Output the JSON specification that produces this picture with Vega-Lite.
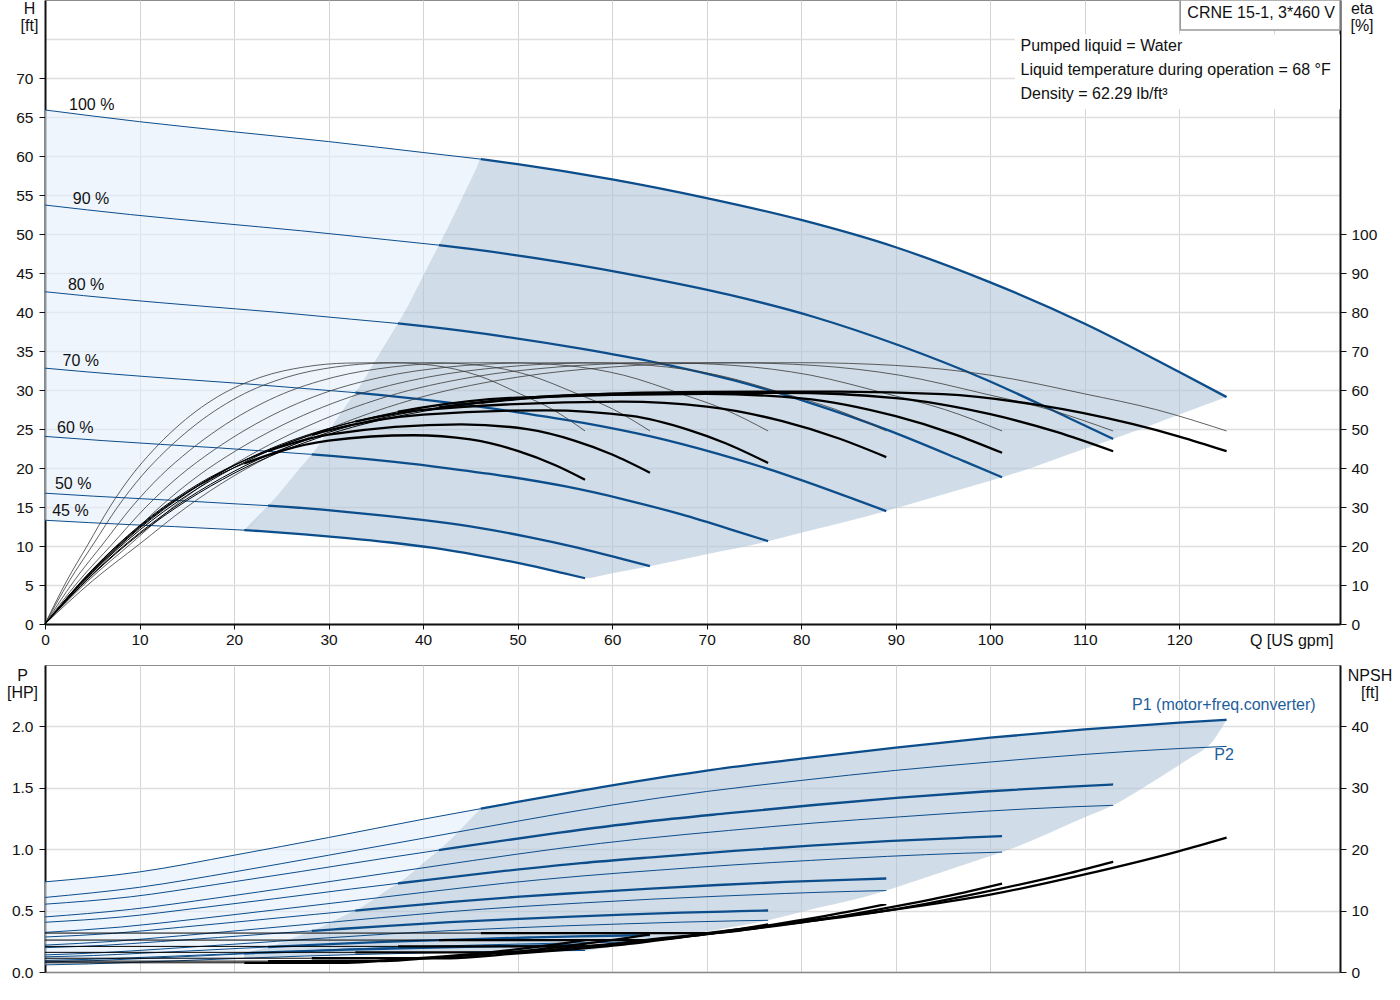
{
"$schema": "https://vega.github.io/schema/vega-lite/v6.json",
"padding": {"left": 5, "top": -2, "right": 0, "bottom": 0},
"bounds": "flush",
"spacing": 41,
"config": {
  "font": "Liberation Sans",
  "view": {"stroke": "#8c8c8c", "strokeWidth": 1},
  "axis": {"labelFont": "Liberation Sans", "labelFontSize": 15.5, "labelColor": "#111", "labelFlush": false, "labelOverlap": false, "titleFont": "Liberation Sans", "titleFontSize": 16, "titleFontWeight": "normal", "titleColor": "#111", "tickColor": "#111", "domainColor": "#111", "gridColor": "#d8d8d8", "gridWidth": 1},
  "text": {"font": "Liberation Sans", "fontSize": 16, "color": "#111"}
},
"datasets": {
"qh": [
{"c":"100","s":"a","Q":0,"H":65.9},{"c":"100","s":"a","Q":10,"H":64.4},{"c":"100","s":"a","Q":20,"H":63.1},{"c":"100","s":"a","Q":30,"H":61.85},{"c":"100","s":"a","Q":40,"H":60.45},{"c":"100","s":"a","Q":46.1,"H":59.6},
{"c":"100","s":"b","Q":46.1,"H":59.6},{"c":"100","s":"b","Q":50,"H":58.96},{"c":"100","s":"b","Q":60,"H":57},{"c":"100","s":"b","Q":70,"H":54.6},{"c":"100","s":"b","Q":80,"H":51.8},{"c":"100","s":"b","Q":90,"H":48.3},{"c":"100","s":"b","Q":100,"H":43.8},{"c":"100","s":"b","Q":110,"H":38.5},{"c":"100","s":"b","Q":120,"H":32.3},{"c":"100","s":"b","Q":125,"H":29.1},
{"c":"90","s":"a","Q":0,"H":53.71},{"c":"90","s":"a","Q":9.04,"H":52.49},{"c":"90","s":"a","Q":18.08,"H":51.43},{"c":"90","s":"a","Q":27.12,"H":50.41},{"c":"90","s":"a","Q":36.16,"H":49.27},{"c":"90","s":"a","Q":41.67,"H":48.57},
{"c":"90","s":"b","Q":41.67,"H":48.57},{"c":"90","s":"b","Q":45.2,"H":48.05},{"c":"90","s":"b","Q":54.24,"H":46.46},{"c":"90","s":"b","Q":63.28,"H":44.5},{"c":"90","s":"b","Q":72.32,"H":42.22},{"c":"90","s":"b","Q":81.36,"H":39.36},{"c":"90","s":"b","Q":90.4,"H":35.7},{"c":"90","s":"b","Q":99.44,"H":31.38},{"c":"90","s":"b","Q":108.48,"H":26.32},{"c":"90","s":"b","Q":113,"H":23.72},
{"c":"80","s":"a","Q":0,"H":42.6},{"c":"80","s":"a","Q":8.1,"H":41.63},{"c":"80","s":"a","Q":16.2,"H":40.79},{"c":"80","s":"a","Q":24.3,"H":39.99},{"c":"80","s":"a","Q":32.4,"H":39.08},{"c":"80","s":"a","Q":37.34,"H":38.53},
{"c":"80","s":"b","Q":37.34,"H":38.53},{"c":"80","s":"b","Q":40.5,"H":38.12},{"c":"80","s":"b","Q":48.6,"H":36.85},{"c":"80","s":"b","Q":56.7,"H":35.3},{"c":"80","s":"b","Q":64.8,"H":33.49},{"c":"80","s":"b","Q":72.9,"H":31.23},{"c":"80","s":"b","Q":81,"H":28.32},{"c":"80","s":"b","Q":89.1,"H":24.89},{"c":"80","s":"b","Q":97.2,"H":20.88},{"c":"80","s":"b","Q":101.25,"H":18.81},
{"c":"70","s":"a","Q":0,"H":32.8},{"c":"70","s":"a","Q":7.12,"H":32.05},{"c":"70","s":"a","Q":14.24,"H":31.4},{"c":"70","s":"a","Q":21.36,"H":30.78},{"c":"70","s":"a","Q":28.48,"H":30.09},{"c":"70","s":"a","Q":32.82,"H":29.66},
{"c":"70","s":"b","Q":32.82,"H":29.66},{"c":"70","s":"b","Q":35.6,"H":29.34},{"c":"70","s":"b","Q":42.72,"H":28.37},{"c":"70","s":"b","Q":49.84,"H":27.17},{"c":"70","s":"b","Q":56.96,"H":25.78},{"c":"70","s":"b","Q":64.08,"H":24.04},{"c":"70","s":"b","Q":71.2,"H":21.8},{"c":"70","s":"b","Q":78.32,"H":19.16},{"c":"70","s":"b","Q":85.44,"H":16.08},{"c":"70","s":"b","Q":89,"H":14.48},
{"c":"60","s":"a","Q":0,"H":24.05},{"c":"60","s":"a","Q":6.12,"H":23.51},{"c":"60","s":"a","Q":12.24,"H":23.03},{"c":"60","s":"a","Q":18.36,"H":22.58},{"c":"60","s":"a","Q":24.48,"H":22.06},{"c":"60","s":"a","Q":28.21,"H":21.75},
{"c":"60","s":"b","Q":28.21,"H":21.75},{"c":"60","s":"b","Q":30.6,"H":21.52},{"c":"60","s":"b","Q":36.72,"H":20.81},{"c":"60","s":"b","Q":42.84,"H":19.93},{"c":"60","s":"b","Q":48.96,"H":18.91},{"c":"60","s":"b","Q":55.08,"H":17.63},{"c":"60","s":"b","Q":61.2,"H":15.99},{"c":"60","s":"b","Q":67.32,"H":14.05},{"c":"60","s":"b","Q":73.44,"H":11.79},{"c":"60","s":"b","Q":76.5,"H":10.62},
{"c":"50","s":"a","Q":0,"H":16.77},{"c":"50","s":"a","Q":5.12,"H":16.39},{"c":"50","s":"a","Q":10.24,"H":16.06},{"c":"50","s":"a","Q":15.36,"H":15.74},{"c":"50","s":"a","Q":20.48,"H":15.38},{"c":"50","s":"a","Q":23.6,"H":15.17},
{"c":"50","s":"b","Q":23.6,"H":15.17},{"c":"50","s":"b","Q":25.6,"H":15.01},{"c":"50","s":"b","Q":30.72,"H":14.51},{"c":"50","s":"b","Q":35.84,"H":13.9},{"c":"50","s":"b","Q":40.96,"H":13.18},{"c":"50","s":"b","Q":46.08,"H":12.29},{"c":"50","s":"b","Q":51.2,"H":11.15},{"c":"50","s":"b","Q":56.32,"H":9.8},{"c":"50","s":"b","Q":61.44,"H":8.22},{"c":"50","s":"b","Q":64,"H":7.41},
{"c":"45","s":"a","Q":0,"H":13.3},{"c":"45","s":"a","Q":4.57,"H":13.0},{"c":"45","s":"a","Q":9.14,"H":12.73},{"c":"45","s":"a","Q":13.71,"H":12.48},{"c":"45","s":"a","Q":18.28,"H":12.2},{"c":"45","s":"a","Q":21.07,"H":12.03},
{"c":"45","s":"b","Q":21.07,"H":12.03},{"c":"45","s":"b","Q":22.85,"H":11.9},{"c":"45","s":"b","Q":27.42,"H":11.5},{"c":"45","s":"b","Q":31.99,"H":11.02},{"c":"45","s":"b","Q":36.56,"H":10.45},{"c":"45","s":"b","Q":41.13,"H":9.75},{"c":"45","s":"b","Q":45.7,"H":8.84},{"c":"45","s":"b","Q":50.27,"H":7.77},{"c":"45","s":"b","Q":54.84,"H":6.52},{"c":"45","s":"b","Q":57.13,"H":5.87}
],
"eh": [
{"c":"100","Q":0,"E":0},{"c":"100","Q":5,"E":11},{"c":"100","Q":10,"E":20.5},{"c":"100","Q":15,"E":30},{"c":"100","Q":20,"E":38},{"c":"100","Q":25,"E":44.5},{"c":"100","Q":30,"E":50},{"c":"100","Q":40,"E":58.3},{"c":"100","Q":50,"E":63.3},{"c":"100","Q":60,"E":65.9},{"c":"100","Q":70,"E":66.9},{"c":"100","Q":80,"E":67},{"c":"100","Q":90,"E":66.3},{"c":"100","Q":100,"E":63.8},{"c":"100","Q":110,"E":59},{"c":"100","Q":117.5,"E":55},{"c":"100","Q":125,"E":49.5},
{"c":"90","Q":0,"E":0},{"c":"90","Q":4.52,"E":11},{"c":"90","Q":9.04,"E":20.5},{"c":"90","Q":13.56,"E":30},{"c":"90","Q":18.08,"E":38},{"c":"90","Q":22.6,"E":44.5},{"c":"90","Q":27.12,"E":50},{"c":"90","Q":36.16,"E":58.3},{"c":"90","Q":45.2,"E":63.3},{"c":"90","Q":54.24,"E":65.9},{"c":"90","Q":63.28,"E":66.9},{"c":"90","Q":72.32,"E":67},{"c":"90","Q":81.36,"E":66.3},{"c":"90","Q":90.4,"E":63.8},{"c":"90","Q":99.44,"E":59},{"c":"90","Q":106.22,"E":55},{"c":"90","Q":113,"E":49.5},
{"c":"80","Q":0,"E":0},{"c":"80","Q":4.05,"E":11},{"c":"80","Q":8.1,"E":20.5},{"c":"80","Q":12.15,"E":30},{"c":"80","Q":16.2,"E":38},{"c":"80","Q":20.25,"E":44.5},{"c":"80","Q":24.3,"E":50},{"c":"80","Q":32.4,"E":58.3},{"c":"80","Q":40.5,"E":63.3},{"c":"80","Q":48.6,"E":65.9},{"c":"80","Q":56.7,"E":66.9},{"c":"80","Q":64.8,"E":67},{"c":"80","Q":72.9,"E":66.3},{"c":"80","Q":81,"E":63.8},{"c":"80","Q":89.1,"E":59},{"c":"80","Q":95.18,"E":55},{"c":"80","Q":101.25,"E":49.5},
{"c":"70","Q":0,"E":0},{"c":"70","Q":3.56,"E":11},{"c":"70","Q":7.12,"E":20.5},{"c":"70","Q":10.68,"E":30},{"c":"70","Q":14.24,"E":38},{"c":"70","Q":17.8,"E":44.5},{"c":"70","Q":21.36,"E":50},{"c":"70","Q":28.48,"E":58.3},{"c":"70","Q":35.6,"E":63.3},{"c":"70","Q":42.72,"E":65.9},{"c":"70","Q":49.84,"E":66.9},{"c":"70","Q":56.96,"E":67},{"c":"70","Q":64.08,"E":66.3},{"c":"70","Q":71.2,"E":63.8},{"c":"70","Q":78.32,"E":59},{"c":"70","Q":83.66,"E":55},{"c":"70","Q":89,"E":49.5},
{"c":"60","Q":0,"E":0},{"c":"60","Q":3.06,"E":11},{"c":"60","Q":6.12,"E":20.5},{"c":"60","Q":9.18,"E":30},{"c":"60","Q":12.24,"E":38},{"c":"60","Q":15.3,"E":44.5},{"c":"60","Q":18.36,"E":50},{"c":"60","Q":24.48,"E":58.3},{"c":"60","Q":30.6,"E":63.3},{"c":"60","Q":36.72,"E":65.9},{"c":"60","Q":42.84,"E":66.9},{"c":"60","Q":48.96,"E":67},{"c":"60","Q":55.08,"E":66.3},{"c":"60","Q":61.2,"E":63.8},{"c":"60","Q":67.32,"E":59},{"c":"60","Q":71.91,"E":55},{"c":"60","Q":76.5,"E":49.5},
{"c":"50","Q":0,"E":0},{"c":"50","Q":2.56,"E":11},{"c":"50","Q":5.12,"E":20.5},{"c":"50","Q":7.68,"E":30},{"c":"50","Q":10.24,"E":38},{"c":"50","Q":12.8,"E":44.5},{"c":"50","Q":15.36,"E":50},{"c":"50","Q":20.48,"E":58.3},{"c":"50","Q":25.6,"E":63.3},{"c":"50","Q":30.72,"E":65.9},{"c":"50","Q":35.84,"E":66.9},{"c":"50","Q":40.96,"E":67},{"c":"50","Q":46.08,"E":66.3},{"c":"50","Q":51.2,"E":63.8},{"c":"50","Q":56.32,"E":59},{"c":"50","Q":60.16,"E":55},{"c":"50","Q":64,"E":49.5},
{"c":"45","Q":0,"E":0},{"c":"45","Q":2.285,"E":11},{"c":"45","Q":4.57,"E":20.5},{"c":"45","Q":6.855,"E":30},{"c":"45","Q":9.14,"E":38},{"c":"45","Q":11.425,"E":44.5},{"c":"45","Q":13.71,"E":50},{"c":"45","Q":18.28,"E":58.3},{"c":"45","Q":22.85,"E":63.3},{"c":"45","Q":27.42,"E":65.9},{"c":"45","Q":31.99,"E":66.9},{"c":"45","Q":36.56,"E":67},{"c":"45","Q":41.13,"E":66.3},{"c":"45","Q":45.7,"E":63.8},{"c":"45","Q":50.27,"E":59},{"c":"45","Q":53.7,"E":55},{"c":"45","Q":57.13,"E":49.5}
],
"et": [
{"c":"100","s":"a","Q":0,"E":0},{"c":"100","s":"a","Q":5,"E":12.57},{"c":"100","s":"a","Q":10,"E":23.04},{"c":"100","s":"a","Q":15,"E":31.64},{"c":"100","s":"a","Q":20,"E":38.64},{"c":"100","s":"a","Q":30,"E":48.62},{"c":"100","s":"a","Q":40,"E":54.52},{"c":"100","s":"a","Q":46.1,"E":56.69},
{"c":"100","s":"b","Q":46.1,"E":56.69},{"c":"100","s":"b","Q":50,"E":57.65},{"c":"100","s":"b","Q":60,"E":59.05},{"c":"100","s":"b","Q":70,"E":59.51},{"c":"100","s":"b","Q":84,"E":59.6},{"c":"100","s":"b","Q":95,"E":58.92},{"c":"100","s":"b","Q":105,"E":56.17},{"c":"100","s":"b","Q":115,"E":51.29},{"c":"100","s":"b","Q":120,"E":48.06},{"c":"100","s":"b","Q":125,"E":44.3},
{"c":"90","s":"a","Q":0,"E":0},{"c":"90","s":"a","Q":5,"E":12.74},{"c":"90","s":"a","Q":10,"E":23.36},{"c":"90","s":"a","Q":15,"E":32.08},{"c":"90","s":"a","Q":20,"E":39.14},{"c":"90","s":"a","Q":30,"E":49.12},{"c":"90","s":"a","Q":40,"E":54.89},{"c":"90","s":"a","Q":41.67,"E":55.54},
{"c":"90","s":"b","Q":41.67,"E":55.54},{"c":"90","s":"b","Q":50,"E":57.8},{"c":"90","s":"b","Q":60,"E":58.97},{"c":"90","s":"b","Q":78,"E":59.3},{"c":"90","s":"b","Q":90,"E":57.92},{"c":"90","s":"b","Q":100,"E":53.79},{"c":"90","s":"b","Q":107,"E":49.26},{"c":"90","s":"b","Q":113,"E":44.3},
{"c":"80","s":"a","Q":0,"E":0},{"c":"80","s":"a","Q":5,"E":13.14},{"c":"80","s":"a","Q":10,"E":24.04},{"c":"80","s":"a","Q":15,"E":32.95},{"c":"80","s":"a","Q":20,"E":40.11},{"c":"80","s":"a","Q":30,"E":50.06},{"c":"80","s":"a","Q":37.34,"E":54.43},
{"c":"80","s":"b","Q":37.34,"E":54.43},{"c":"80","s":"b","Q":40,"E":55.55},{"c":"80","s":"b","Q":50,"E":58.07},{"c":"80","s":"b","Q":70,"E":59.0},{"c":"80","s":"b","Q":80,"E":57.87},{"c":"80","s":"b","Q":90,"E":53.28},{"c":"80","s":"b","Q":96,"E":48.83},{"c":"80","s":"b","Q":101.25,"E":43.9},
{"c":"70","s":"a","Q":0,"E":0},{"c":"70","s":"a","Q":5,"E":13.45},{"c":"70","s":"a","Q":10,"E":24.53},{"c":"70","s":"a","Q":15,"E":33.51},{"c":"70","s":"a","Q":20,"E":40.61},{"c":"70","s":"a","Q":30,"E":50.13},{"c":"70","s":"a","Q":32.82,"E":51.89},
{"c":"70","s":"b","Q":32.82,"E":51.89},{"c":"70","s":"b","Q":40,"E":54.93},{"c":"70","s":"b","Q":61,"E":57},{"c":"70","s":"b","Q":70,"E":55.75},{"c":"70","s":"b","Q":78,"E":52.01},{"c":"70","s":"b","Q":84,"E":47.57},{"c":"70","s":"b","Q":89,"E":42.8},
{"c":"60","s":"a","Q":0,"E":0},{"c":"60","s":"a","Q":5,"E":13.63},{"c":"60","s":"a","Q":10,"E":24.79},{"c":"60","s":"a","Q":15,"E":33.72},{"c":"60","s":"a","Q":20,"E":40.68},{"c":"60","s":"a","Q":28.21,"E":48.47},
{"c":"60","s":"b","Q":28.21,"E":48.47},{"c":"60","s":"b","Q":30,"E":49.65},{"c":"60","s":"b","Q":40,"E":53.69},{"c":"60","s":"b","Q":53,"E":54.8},{"c":"60","s":"b","Q":62,"E":53.37},{"c":"60","s":"b","Q":68,"E":49.86},{"c":"60","s":"b","Q":72,"E":46.36},{"c":"60","s":"b","Q":76.5,"E":41.3},
{"c":"50","s":"a","Q":0,"E":0},{"c":"50","s":"a","Q":5,"E":13.95},{"c":"50","s":"a","Q":10,"E":25.23},{"c":"50","s":"a","Q":15,"E":34.07},{"c":"50","s":"a","Q":20,"E":40.73},{"c":"50","s":"a","Q":23.6,"E":44.31},
{"c":"50","s":"b","Q":23.6,"E":44.31},{"c":"50","s":"b","Q":25,"E":45.47},{"c":"50","s":"b","Q":30,"E":48.56},{"c":"50","s":"b","Q":44,"E":51.2},{"c":"50","s":"b","Q":51,"E":49.96},{"c":"50","s":"b","Q":56,"E":47.04},{"c":"50","s":"b","Q":60,"E":43.47},{"c":"50","s":"b","Q":64,"E":38.8},
{"c":"45","s":"a","Q":0,"E":0},{"c":"45","s":"a","Q":5,"E":13.86},{"c":"45","s":"a","Q":10,"E":25.02},{"c":"45","s":"a","Q":15,"E":33.68},{"c":"45","s":"a","Q":20,"E":40.06},{"c":"45","s":"a","Q":21.07,"E":41.16},
{"c":"45","s":"b","Q":21.07,"E":41.16},{"c":"45","s":"b","Q":25,"E":44.41},{"c":"45","s":"b","Q":30,"E":47},{"c":"45","s":"b","Q":39,"E":48.4},{"c":"45","s":"b","Q":45,"E":47.32},{"c":"45","s":"b","Q":50,"E":44.39},{"c":"45","s":"b","Q":54,"E":40.71},{"c":"45","s":"b","Q":57.13,"E":37}
],
"tl": [
{"Q":0,"H":65.9,"H2":13.3},{"Q":4.57,"H":65.21,"H2":13.0},{"Q":9.14,"H":64.53,"H2":12.73},{"Q":13.71,"H":63.92,"H2":12.48},{"Q":18.28,"H":63.32,"H2":12.2},{"Q":21.07,"H":62.97,"H2":12.03},{"Q":23.6,"H":62.65,"H2":15.17},{"Q":28.21,"H":62.07,"H2":21.75},{"Q":32.82,"H":61.46,"H2":29.66},{"Q":37.34,"H":60.82,"H2":38.53},{"Q":41.67,"H":60.22,"H2":48.57},{"Q":46.1,"H":59.6,"H2":59.6}
],
"td": [
{"Q":21.07,"H":12.03,"H2":12.03},{"Q":22.85,"H":14.24,"H2":11.9},{"Q":23.6,"H":15.17,"H2":11.83},{"Q":27.42,"H":20.62,"H2":11.5},{"Q":28.21,"H":21.75,"H2":11.42},{"Q":31.99,"H":28.24,"H2":11.02},{"Q":32.82,"H":29.66,"H2":10.92},{"Q":36.56,"H":37.0,"H2":10.45},{"Q":37.34,"H":38.53,"H2":10.33},{"Q":41.13,"H":47.32,"H2":9.75},{"Q":41.67,"H":48.57,"H2":9.64},{"Q":45.7,"H":58.6,"H2":8.84},{"Q":46.1,"H":59.6,"H2":8.75},{"Q":50,"H":58.96,"H2":7.83},{"Q":50.27,"H":58.91,"H2":7.77},{"Q":54.84,"H":58.01,"H2":6.52},{"Q":57.13,"H":57.56,"H2":5.87},{"Q":60,"H":57.0,"H2":6.51},{"Q":64,"H":56.04,"H2":7.41},{"Q":70,"H":54.6,"H2":8.95},{"Q":76.5,"H":52.78,"H2":10.62},{"Q":80,"H":51.8,"H2":11.7},{"Q":89,"H":48.65,"H2":14.48},{"Q":90,"H":48.3,"H2":14.83},{"Q":100,"H":43.8,"H2":18.37},{"Q":101.25,"H":43.14,"H2":18.81},{"Q":110,"H":38.5,"H2":22.47},{"Q":113,"H":36.64,"H2":23.72},{"Q":120,"H":32.3,"H2":26.86},{"Q":125,"H":29.1,"H2":29.1}
],
"infobox": [{"Q":102.6,"Q2":137,"H":75.6,"H2":66.0}],
"crnebox": [{"Q":120.1,"Q2":137,"H":80,"H2":76.15}],
"spd": [
{"Q":2.54,"H":65.87,"t":"100 %"},{"Q":2.94,"H":53.84,"t":"90 %"},{"Q":2.42,"H":42.87,"t":"80 %"},{"Q":1.85,"H":33.06,"t":"70 %"},{"Q":1.28,"H":24.48,"t":"60 %"},{"Q":1.05,"H":17.28,"t":"50 %"},{"Q":0.76,"H":13.86,"t":"45 %"}
],
"info": [
{"Q":103.2,"H":73.48,"t":"Pumped liquid = Water"},{"Q":103.2,"H":70.4,"t":"Liquid temperature during operation = 68 °F"},{"Q":103.2,"H":67.35,"t":"Density = 62.29 lb/ft³"}
],
"crne": [{"Q":120.85,"H":77.64,"t":"CRNE 15-1, 3*460 V"}],
"p1": [
{"c":"100","s":"a","Q":0,"P":0.734},{"c":"100","s":"a","Q":10,"P":0.815},{"c":"100","s":"a","Q":20,"P":0.951},{"c":"100","s":"a","Q":30,"P":1.095},{"c":"100","s":"a","Q":40,"P":1.244},{"c":"100","s":"a","Q":46.1,"P":1.33},
{"c":"100","s":"b","Q":46.1,"P":1.33},{"c":"100","s":"b","Q":50,"P":1.385},{"c":"100","s":"b","Q":60,"P":1.52},{"c":"100","s":"b","Q":70,"P":1.64},{"c":"100","s":"b","Q":80,"P":1.737},{"c":"100","s":"b","Q":90,"P":1.827},{"c":"100","s":"b","Q":100,"P":1.908},{"c":"100","s":"b","Q":110,"P":1.976},{"c":"100","s":"b","Q":120,"P":2.03},{"c":"100","s":"b","Q":125,"P":2.054},
{"c":"90","s":"a","Q":0,"P":0.5523},{"c":"90","s":"a","Q":9.04,"P":0.6121},{"c":"90","s":"a","Q":18.08,"P":0.7126},{"c":"90","s":"a","Q":27.12,"P":0.819},{"c":"90","s":"a","Q":36.16,"P":0.9291},{"c":"90","s":"a","Q":41.67,"P":0.9926},
{"c":"90","s":"b","Q":41.67,"P":0.9926},{"c":"90","s":"b","Q":45.2,"P":1.0332},{"c":"90","s":"b","Q":54.24,"P":1.133},{"c":"90","s":"b","Q":63.28,"P":1.2216},{"c":"90","s":"b","Q":72.32,"P":1.2933},{"c":"90","s":"b","Q":81.36,"P":1.3598},{"c":"90","s":"b","Q":90.4,"P":1.4196},{"c":"90","s":"b","Q":99.44,"P":1.4699},{"c":"90","s":"b","Q":108.48,"P":1.5098},{"c":"90","s":"b","Q":113,"P":1.5275},
{"c":"80","s":"a","Q":0,"P":0.405},{"c":"80","s":"a","Q":8.1,"P":0.4481},{"c":"80","s":"a","Q":16.2,"P":0.5204},{"c":"80","s":"a","Q":24.3,"P":0.5969},{"c":"80","s":"a","Q":32.4,"P":0.6761},{"c":"80","s":"a","Q":37.34,"P":0.7218},
{"c":"80","s":"b","Q":37.34,"P":0.7218},{"c":"80","s":"b","Q":40.5,"P":0.751},{"c":"80","s":"b","Q":48.6,"P":0.8227},{"c":"80","s":"b","Q":56.7,"P":0.8865},{"c":"80","s":"b","Q":64.8,"P":0.938},{"c":"80","s":"b","Q":72.9,"P":0.9859},{"c":"80","s":"b","Q":81,"P":1.0289},{"c":"80","s":"b","Q":89.1,"P":1.065},{"c":"80","s":"b","Q":97.2,"P":1.0937},{"c":"80","s":"b","Q":101.25,"P":1.1065},
{"c":"70","s":"a","Q":0,"P":0.2849},{"c":"70","s":"a","Q":7.12,"P":0.3141},{"c":"70","s":"a","Q":14.24,"P":0.3632},{"c":"70","s":"a","Q":21.36,"P":0.4152},{"c":"70","s":"a","Q":28.48,"P":0.469},{"c":"70","s":"a","Q":32.82,"P":0.5},
{"c":"70","s":"b","Q":32.82,"P":0.5},{"c":"70","s":"b","Q":35.6,"P":0.5198},{"c":"70","s":"b","Q":42.72,"P":0.5686},{"c":"70","s":"b","Q":49.84,"P":0.6119},{"c":"70","s":"b","Q":56.96,"P":0.6469},{"c":"70","s":"b","Q":64.08,"P":0.6794},{"c":"70","s":"b","Q":71.2,"P":0.7086},{"c":"70","s":"b","Q":78.32,"P":0.7331},{"c":"70","s":"b","Q":85.44,"P":0.7526},{"c":"70","s":"b","Q":89,"P":0.7613},
{"c":"60","s":"a","Q":0,"P":0.1982},{"c":"60","s":"a","Q":6.12,"P":0.2168},{"c":"60","s":"a","Q":12.24,"P":0.248},{"c":"60","s":"a","Q":18.36,"P":0.281},{"c":"60","s":"a","Q":24.48,"P":0.3151},{"c":"60","s":"a","Q":28.21,"P":0.3348},
{"c":"60","s":"b","Q":28.21,"P":0.3348},{"c":"60","s":"b","Q":30.6,"P":0.3474},{"c":"60","s":"b","Q":36.72,"P":0.3784},{"c":"60","s":"b","Q":42.84,"P":0.4059},{"c":"60","s":"b","Q":48.96,"P":0.4281},{"c":"60","s":"b","Q":55.08,"P":0.4487},{"c":"60","s":"b","Q":61.2,"P":0.4673},{"c":"60","s":"b","Q":67.32,"P":0.4829},{"c":"60","s":"b","Q":73.44,"P":0.4953},{"c":"60","s":"b","Q":76.5,"P":0.5008},
{"c":"50","s":"a","Q":0,"P":0.1235},{"c":"50","s":"a","Q":5.12,"P":0.1344},{"c":"50","s":"a","Q":10.24,"P":0.1526},{"c":"50","s":"a","Q":15.36,"P":0.1719},{"c":"50","s":"a","Q":20.48,"P":0.1919},{"c":"50","s":"a","Q":23.6,"P":0.2035},
{"c":"50","s":"b","Q":23.6,"P":0.2035},{"c":"50","s":"b","Q":25.6,"P":0.2109},{"c":"50","s":"b","Q":30.72,"P":0.229},{"c":"50","s":"b","Q":35.84,"P":0.2451},{"c":"50","s":"b","Q":40.96,"P":0.2581},{"c":"50","s":"b","Q":46.08,"P":0.2702},{"c":"50","s":"b","Q":51.2,"P":0.2811},{"c":"50","s":"b","Q":56.32,"P":0.2902},{"c":"50","s":"b","Q":61.44,"P":0.2974},{"c":"50","s":"b","Q":64,"P":0.3006},
{"c":"45","s":"a","Q":0,"P":0.095},{"c":"45","s":"a","Q":4.57,"P":0.1028},{"c":"45","s":"a","Q":9.14,"P":0.1157},{"c":"45","s":"a","Q":13.71,"P":0.1295},{"c":"45","s":"a","Q":18.28,"P":0.1437},{"c":"45","s":"a","Q":21.07,"P":0.1519},
{"c":"45","s":"b","Q":21.07,"P":0.1519},{"c":"45","s":"b","Q":22.85,"P":0.1571},{"c":"45","s":"b","Q":27.42,"P":0.17},{"c":"45","s":"b","Q":31.99,"P":0.1815},{"c":"45","s":"b","Q":36.56,"P":0.1907},{"c":"45","s":"b","Q":41.13,"P":0.1993},{"c":"45","s":"b","Q":45.7,"P":0.207},{"c":"45","s":"b","Q":50.27,"P":0.2135},{"c":"45","s":"b","Q":54.84,"P":0.2187},{"c":"45","s":"b","Q":57.13,"P":0.221}
],
"p2": [
{"c":"100","Q":0,"P":0.607},{"c":"100","Q":10,"P":0.69},{"c":"100","Q":20,"P":0.815},{"c":"100","Q":30,"P":0.951},{"c":"100","Q":40,"P":1.089},{"c":"100","Q":50,"P":1.228},{"c":"100","Q":60,"P":1.36},{"c":"100","Q":70,"P":1.47},{"c":"100","Q":80,"P":1.56},{"c":"100","Q":90,"P":1.642},{"c":"100","Q":100,"P":1.71},{"c":"100","Q":110,"P":1.772},{"c":"100","Q":120,"P":1.82},{"c":"100","Q":125,"P":1.837},
{"c":"90","Q":0,"P":0.4484},{"c":"90","Q":9.04,"P":0.5098},{"c":"90","Q":18.08,"P":0.6021},{"c":"90","Q":27.12,"P":0.7026},{"c":"90","Q":36.16,"P":0.8046},{"c":"90","Q":45.2,"P":0.9072},{"c":"90","Q":54.24,"P":1.0048},{"c":"90","Q":63.28,"P":1.086},{"c":"90","Q":72.32,"P":1.1525},{"c":"90","Q":81.36,"P":1.2131},{"c":"90","Q":90.4,"P":1.2633},{"c":"90","Q":99.44,"P":1.3092},{"c":"90","Q":108.48,"P":1.3446},{"c":"90","Q":113,"P":1.3572},
{"c":"80","Q":0,"P":0.3226},{"c":"80","Q":8.1,"P":0.3667},{"c":"80","Q":16.2,"P":0.4331},{"c":"80","Q":24.3,"P":0.5054},{"c":"80","Q":32.4,"P":0.5787},{"c":"80","Q":40.5,"P":0.6526},{"c":"80","Q":48.6,"P":0.7227},{"c":"80","Q":56.7,"P":0.7812},{"c":"80","Q":64.8,"P":0.829},{"c":"80","Q":72.9,"P":0.8726},{"c":"80","Q":81,"P":0.9087},{"c":"80","Q":89.1,"P":0.9416},{"c":"80","Q":97.2,"P":0.9671},{"c":"80","Q":101.25,"P":0.9762},
{"c":"70","Q":0,"P":0.2191},{"c":"70","Q":7.12,"P":0.249},{"c":"70","Q":14.24,"P":0.2941},{"c":"70","Q":21.36,"P":0.3432},{"c":"70","Q":28.48,"P":0.393},{"c":"70","Q":35.6,"P":0.4432},{"c":"70","Q":42.72,"P":0.4908},{"c":"70","Q":49.84,"P":0.5305},{"c":"70","Q":56.96,"P":0.563},{"c":"70","Q":64.08,"P":0.5926},{"c":"70","Q":71.2,"P":0.6171},{"c":"70","Q":78.32,"P":0.6395},{"c":"70","Q":85.44,"P":0.6568},{"c":"70","Q":89,"P":0.663},
{"c":"60","Q":0,"P":0.1391},{"c":"60","Q":6.12,"P":0.1581},{"c":"60","Q":12.24,"P":0.1868},{"c":"60","Q":18.36,"P":0.218},{"c":"60","Q":24.48,"P":0.2496},{"c":"60","Q":30.6,"P":0.2815},{"c":"60","Q":36.72,"P":0.3117},{"c":"60","Q":42.84,"P":0.3369},{"c":"60","Q":48.96,"P":0.3576},{"c":"60","Q":55.08,"P":0.3763},{"c":"60","Q":61.2,"P":0.3919},{"c":"60","Q":67.32,"P":0.4061},{"c":"60","Q":73.44,"P":0.4171},{"c":"60","Q":76.5,"P":0.421},
{"c":"50","Q":0,"P":0.0815},{"c":"50","Q":5.12,"P":0.0926},{"c":"50","Q":10.24,"P":0.1094},{"c":"50","Q":15.36,"P":0.1276},{"c":"50","Q":20.48,"P":0.1461},{"c":"50","Q":25.6,"P":0.1648},{"c":"50","Q":30.72,"P":0.1825},{"c":"50","Q":35.84,"P":0.1973},{"c":"50","Q":40.96,"P":0.2094},{"c":"50","Q":46.08,"P":0.2204},{"c":"50","Q":51.2,"P":0.2295},{"c":"50","Q":56.32,"P":0.2378},{"c":"50","Q":61.44,"P":0.2442},{"c":"50","Q":64,"P":0.2465},
{"c":"45","Q":0,"P":0.0579},{"c":"45","Q":4.57,"P":0.0658},{"c":"45","Q":9.14,"P":0.0778},{"c":"45","Q":13.71,"P":0.0907},{"c":"45","Q":18.28,"P":0.1039},{"c":"45","Q":22.85,"P":0.1172},{"c":"45","Q":27.42,"P":0.1297},{"c":"45","Q":31.99,"P":0.1402},{"c":"45","Q":36.56,"P":0.1488},{"c":"45","Q":41.13,"P":0.1566},{"c":"45","Q":45.7,"P":0.1631},{"c":"45","Q":50.27,"P":0.169},{"c":"45","Q":54.84,"P":0.1736},{"c":"45","Q":57.13,"P":0.1752}
],
"np": [
{"c":"100","s":"a","Q":0,"N":6.34},{"c":"100","s":"a","Q":46.1,"N":6.34},
{"c":"100","s":"b","Q":46.1,"N":6.34},{"c":"100","s":"b","Q":70,"N":6.34},{"c":"100","s":"b","Q":80,"N":8.25},{"c":"100","s":"b","Q":90,"N":10.2},{"c":"100","s":"b","Q":100,"N":12.6},{"c":"100","s":"b","Q":110,"N":15.9},{"c":"100","s":"b","Q":120,"N":19.7},{"c":"100","s":"b","Q":125,"N":21.9},
{"c":"90","s":"a","Q":0,"N":5.2},{"c":"90","s":"a","Q":41.67,"N":5.2},
{"c":"90","s":"b","Q":41.67,"N":5.2},{"c":"90","s":"b","Q":63.28,"N":5.2},{"c":"90","s":"b","Q":72.32,"N":6.77},{"c":"90","s":"b","Q":81.36,"N":8.36},{"c":"90","s":"b","Q":90.4,"N":10.33},{"c":"90","s":"b","Q":99.44,"N":13.04},{"c":"90","s":"b","Q":108.48,"N":16.15},{"c":"90","s":"b","Q":113,"N":17.96},
{"c":"80","s":"a","Q":0,"N":4.17},{"c":"80","s":"a","Q":37.34,"N":4.17},
{"c":"80","s":"b","Q":37.34,"N":4.17},{"c":"80","s":"b","Q":56.7,"N":4.17},{"c":"80","s":"b","Q":64.8,"N":5.42},{"c":"80","s":"b","Q":72.9,"N":6.7},{"c":"80","s":"b","Q":81,"N":8.28},{"c":"80","s":"b","Q":89.1,"N":10.45},{"c":"80","s":"b","Q":97.2,"N":12.94},{"c":"80","s":"b","Q":101.25,"N":14.39},
{"c":"70","s":"a","Q":0,"N":3.2},{"c":"70","s":"a","Q":32.82,"N":3.2},
{"c":"70","s":"b","Q":32.82,"N":3.2},{"c":"70","s":"b","Q":49.84,"N":3.2},{"c":"70","s":"b","Q":56.96,"N":4.17},{"c":"70","s":"b","Q":64.08,"N":5.15},{"c":"70","s":"b","Q":71.2,"N":6.36},{"c":"70","s":"b","Q":78.32,"N":8.03},{"c":"70","s":"b","Q":85.44,"N":9.95},{"c":"70","s":"b","Q":89,"N":11.06},
{"c":"60","s":"a","Q":0,"N":2.24},{"c":"60","s":"a","Q":28.21,"N":2.24},
{"c":"60","s":"b","Q":28.21,"N":2.24},{"c":"60","s":"b","Q":42.84,"N":2.24},{"c":"60","s":"b","Q":48.96,"N":2.92},{"c":"60","s":"b","Q":55.08,"N":3.61},{"c":"60","s":"b","Q":61.2,"N":4.46},{"c":"60","s":"b","Q":67.32,"N":5.63},{"c":"60","s":"b","Q":73.44,"N":6.97},{"c":"60","s":"b","Q":76.5,"N":7.75},
{"c":"50","s":"a","Q":0,"N":1.77},{"c":"50","s":"a","Q":23.6,"N":1.77},
{"c":"50","s":"b","Q":23.6,"N":1.77},{"c":"50","s":"b","Q":35.84,"N":1.77},{"c":"50","s":"b","Q":40.96,"N":2.3},{"c":"50","s":"b","Q":46.08,"N":2.85},{"c":"50","s":"b","Q":51.2,"N":3.52},{"c":"50","s":"b","Q":56.32,"N":4.44},{"c":"50","s":"b","Q":61.44,"N":5.5},{"c":"50","s":"b","Q":64,"N":6.11},
{"c":"45","s":"a","Q":0,"N":1.5},{"c":"45","s":"a","Q":21.07,"N":1.5},
{"c":"45","s":"b","Q":21.07,"N":1.5},{"c":"45","s":"b","Q":31.99,"N":1.5},{"c":"45","s":"b","Q":36.56,"N":1.96},{"c":"45","s":"b","Q":41.13,"N":2.42},{"c":"45","s":"b","Q":45.7,"N":2.99},{"c":"45","s":"b","Q":50.27,"N":3.77},{"c":"45","s":"b","Q":54.84,"N":4.67},{"c":"45","s":"b","Q":57.13,"N":5.19}
],
"bl": [
{"Q":0,"P":0.734,"Pb":0.0579},{"Q":4.57,"P":0.771,"Pb":0.0658},{"Q":9.14,"P":0.808,"Pb":0.0778},{"Q":13.71,"P":0.8655,"Pb":0.0907},{"Q":18.28,"P":0.9276,"Pb":0.1039},{"Q":21.07,"P":0.9664,"Pb":0.13},{"Q":23.6,"P":1.0028,"Pb":0.2035},{"Q":28.21,"P":1.0692,"Pb":0.3348},{"Q":32.82,"P":1.137,"Pb":0.5},{"Q":37.34,"P":1.2044,"Pb":0.7218},{"Q":41.67,"P":1.2675,"Pb":0.9926},{"Q":46.1,"P":1.33,"Pb":1.33}
],
"bd": [
{"Q":21.07,"P":0.1519,"Pb":0.112},{"Q":22.85,"P":0.1882,"Pb":0.1172},{"Q":23.6,"P":0.2035,"Pb":0.1193},{"Q":27.42,"P":0.3123,"Pb":0.1297},{"Q":28.21,"P":0.3348,"Pb":0.1315},{"Q":31.99,"P":0.4703,"Pb":0.1402},{"Q":32.82,"P":0.5,"Pb":0.1418},{"Q":36.56,"P":0.6835,"Pb":0.1488},{"Q":37.34,"P":0.7218,"Pb":0.1501},{"Q":41.13,"P":0.9588,"Pb":0.1566},{"Q":41.67,"P":0.9926,"Pb":0.1574},{"Q":45.7,"P":1.2995,"Pb":0.1631},{"Q":46.1,"P":1.33,"Pb":0.1636},{"Q":50,"P":1.385,"Pb":0.1687},{"Q":50.27,"P":1.3886,"Pb":0.169},{"Q":54.84,"P":1.4503,"Pb":0.1736},{"Q":57.13,"P":1.481,"Pb":0.1752},{"Q":60,"P":1.52,"Pb":0.205},{"Q":64,"P":1.568,"Pb":0.2465},{"Q":70,"P":1.64,"Pb":0.3303},{"Q":76.5,"P":1.703,"Pb":0.421},{"Q":80,"P":1.737,"Pb":0.4888},{"Q":89,"P":1.818,"Pb":0.663},{"Q":90,"P":1.827,"Pb":0.6886},{"Q":100,"P":1.908,"Pb":0.9442},{"Q":101.25,"P":1.9165,"Pb":0.9762},{"Q":110,"P":1.976,"Pb":1.2599},{"Q":113,"P":1.9922,"Pb":1.3572},{"Q":116.6,"P":2.0116,"Pb":1.52},{"Q":120,"P":2.03,"Pb":1.6864},{"Q":121.3,"P":2.0362,"Pb":1.75},{"Q":123.6,"P":2.0473,"Pb":1.886},{"Q":125,"P":2.054,"Pb":2.054}
],
"plab": [{"Q":115.0,"P":2.13,"t":"P1 (motor+freq.converter)"},{"Q":123.7,"P":1.724,"t":"P2"}]
},
"vconcat": [
{
  "width": 1295, "height": 624,
  "encoding": {"x": {"field": "Q", "type": "quantitative", "scale": {"domain": [0, 137], "nice": false, "zero": false},
    "axis": {"values": [0,10,20,30,40,50,60,70,80,90,100,110,120,130], "labelExpr": "datum.value > 125 ? '' : datum.label", "tickOpacity": {"condition": {"test": "datum.value > 125", "value": 0}, "value": 1}, "tickSize": 5, "labelPadding": 3, "domainWidth": 2, "title": "Q [US gpm]", "titleX": 1288, "titleY": 8, "titleAlign": "right", "titleBaseline": "top", "gridColor": "#d4d4d4"}}},
  "layer": [
    {"layer": [
      {"data": {"name": "tl"}, "mark": {"type": "area", "fill": "#E3EEFC", "fillOpacity": 0.6, "interpolate": "monotone"},
       "encoding": {"y": {"field": "H", "type": "quantitative", "scale": {"domain": [0, 80], "nice": false},
          "axis": {"values": [0,5,10,15,20,25,30,35,40,45,50,55,60,65,70,75], "labelExpr": "datum.value > 72 ? '' : datum.label", "tickOpacity": {"condition": {"test": "datum.value > 72", "value": 0}, "value": 1}, "tickSize": 6, "labelPadding": 6, "domainWidth": 2, "title": ["H", "[ft]"], "titleAngle": 0, "titleAlign": "center", "titleBaseline": "top", "titleX": -16, "titleY": 0, "titleLineHeight": 17, "gridWidth": 1.5, "gridColor": "#dedede"}},
         "y2": {"field": "H2"}}},
      {"data": {"name": "td"}, "mark": {"type": "area", "fill": "#B1C5D7", "fillOpacity": 0.6, "interpolate": "monotone"},
       "encoding": {"y": {"field": "H", "type": "quantitative", "scale": {"domain": [0, 80], "nice": false}}, "y2": {"field": "H2"}}},
      {"data": {"name": "infobox"}, "mark": {"type": "rect", "fill": "#ffffff"},
       "encoding": {"x2": {"field": "Q2"}, "y": {"field": "H", "type": "quantitative", "scale": {"domain": [0, 80], "nice": false}}, "y2": {"field": "H2"}}},
      {"data": {"name": "crnebox"}, "mark": {"type": "rect", "fill": "#ffffff", "stroke": "#9a9a9a", "strokeWidth": 1.5},
       "encoding": {"x2": {"field": "Q2"}, "y": {"field": "H", "type": "quantitative", "scale": {"domain": [0, 80], "nice": false}}, "y2": {"field": "H2"}}},
      {"data": {"name": "qh"}, "mark": {"type": "line", "color": "#0c4d8b", "interpolate": "monotone"},
       "encoding": {"y": {"field": "H", "type": "quantitative", "scale": {"domain": [0, 80], "nice": false}},
         "detail": [{"field": "c"}, {"field": "s"}],
         "strokeWidth": {"field": "s", "type": "ordinal", "scale": {"domain": ["a", "b"], "range": [1, 2.3]}, "legend": null}}},
      {"data": {"name": "spd"}, "mark": {"type": "text", "align": "left", "baseline": "alphabetic", "fontSize": 16, "color": "#111"},
       "encoding": {"y": {"field": "H", "type": "quantitative", "scale": {"domain": [0, 80], "nice": false}}, "text": {"field": "t"}}},
      {"data": {"name": "info"}, "mark": {"type": "text", "align": "left", "baseline": "alphabetic", "fontSize": 16, "color": "#111"},
       "encoding": {"y": {"field": "H", "type": "quantitative", "scale": {"domain": [0, 80], "nice": false}}, "text": {"field": "t"}}},
      {"data": {"name": "crne"}, "mark": {"type": "text", "align": "left", "baseline": "alphabetic", "fontSize": 16, "color": "#111"},
       "encoding": {"y": {"field": "H", "type": "quantitative", "scale": {"domain": [0, 80], "nice": false}}, "text": {"field": "t"}}}
    ]},
    {"layer": [
      {"data": {"name": "eh"}, "mark": {"type": "line", "color": "#3a3a3a", "strokeWidth": 0.8, "interpolate": "monotone"},
       "encoding": {"y": {"field": "E", "type": "quantitative", "scale": {"domain": [0, 160], "nice": false},
          "axis": {"orient": "right", "values": [0,10,20,30,40,50,60,70,80,90,100], "grid": false, "tickSize": 6, "labelPadding": 5, "domainWidth": 2, "title": ["eta", "[%]"], "titleAngle": 0, "titleAlign": "center", "titleBaseline": "top", "titleX": 21.5, "titleY": 0, "titleLineHeight": 17}},
         "detail": {"field": "c"}}},
      {"data": {"name": "et"}, "mark": {"type": "line", "color": "#000000", "interpolate": "monotone"},
       "encoding": {"y": {"field": "E", "type": "quantitative", "scale": {"domain": [0, 160], "nice": false}},
         "detail": [{"field": "c"}, {"field": "s"}],
         "strokeWidth": {"field": "s", "type": "ordinal", "scale": {"domain": ["a", "b"], "range": [0.9, 2.2]}, "legend": null}}}
    ]}
  ],
  "resolve": {"scale": {"y": "independent"}}
},
{
  "width": 1295, "height": 307,
  "encoding": {"x": {"field": "Q", "type": "quantitative", "scale": {"domain": [0, 137], "nice": false, "zero": false},
    "axis": {"values": [0,10,20,30,40,50,60,70,80,90,100,110,120,130], "labels": false, "ticks": false, "title": null, "domainColor": "#888888", "domainWidth": 1.5, "gridColor": "#d4d4d4"}}},
  "layer": [
    {"layer": [
      {"data": {"name": "bl"}, "mark": {"type": "area", "fill": "#E3EEFC", "fillOpacity": 0.6, "interpolate": "monotone"},
       "encoding": {"y": {"field": "P", "type": "quantitative", "scale": {"domain": [0, 2.5], "nice": false},
          "axis": {"values": [0, 0.5, 1, 1.5, 2], "format": ".1f", "tickSize": 6, "labelPadding": 6, "domainWidth": 2, "title": ["P", "[HP]"], "titleAngle": 0, "titleAlign": "center", "titleBaseline": "top", "titleX": -23, "titleY": 2, "titleLineHeight": 17, "gridWidth": 1.5, "gridColor": "#dedede"}},
         "y2": {"field": "Pb"}}},
      {"data": {"name": "bd"}, "mark": {"type": "area", "fill": "#B1C5D7", "fillOpacity": 0.6, "interpolate": "monotone"},
       "encoding": {"y": {"field": "P", "type": "quantitative", "scale": {"domain": [0, 2.5], "nice": false}}, "y2": {"field": "Pb"}}},
      {"data": {"name": "p2"}, "mark": {"type": "line", "color": "#0c4d8b", "strokeWidth": 1, "interpolate": "monotone"},
       "encoding": {"y": {"field": "P", "type": "quantitative", "scale": {"domain": [0, 2.5], "nice": false}}, "detail": {"field": "c"}}},
      {"data": {"name": "p1"}, "mark": {"type": "line", "color": "#0c4d8b", "interpolate": "monotone"},
       "encoding": {"y": {"field": "P", "type": "quantitative", "scale": {"domain": [0, 2.5], "nice": false}},
         "detail": [{"field": "c"}, {"field": "s"}],
         "strokeWidth": {"field": "s", "type": "ordinal", "scale": {"domain": ["a", "b"], "range": [1, 2.3]}, "legend": null}}},
      {"data": {"name": "plab"}, "mark": {"type": "text", "align": "left", "baseline": "alphabetic", "fontSize": 16, "color": "#1f5e9c"},
       "encoding": {"y": {"field": "P", "type": "quantitative", "scale": {"domain": [0, 2.5], "nice": false}}, "text": {"field": "t"}}}
    ]},
    {"layer": [
      {"data": {"name": "np"}, "mark": {"type": "line", "color": "#000000", "interpolate": "monotone"},
       "encoding": {"y": {"field": "N", "type": "quantitative", "scale": {"domain": [0, 50], "nice": false},
          "axis": {"orient": "right", "values": [0, 10, 20, 30, 40], "grid": false, "tickSize": 6, "labelPadding": 5, "domainWidth": 2, "title": ["NPSH", "[ft]"], "titleAngle": 0, "titleAlign": "center", "titleBaseline": "top", "titleX": 29.5, "titleY": 2, "titleLineHeight": 17}},
         "detail": [{"field": "c"}, {"field": "s"}],
         "strokeWidth": {"field": "s", "type": "ordinal", "scale": {"domain": ["a", "b"], "range": [1, 2.2]}, "legend": null}}}
    ]}
  ],
  "resolve": {"scale": {"y": "independent"}}
}
]
}
